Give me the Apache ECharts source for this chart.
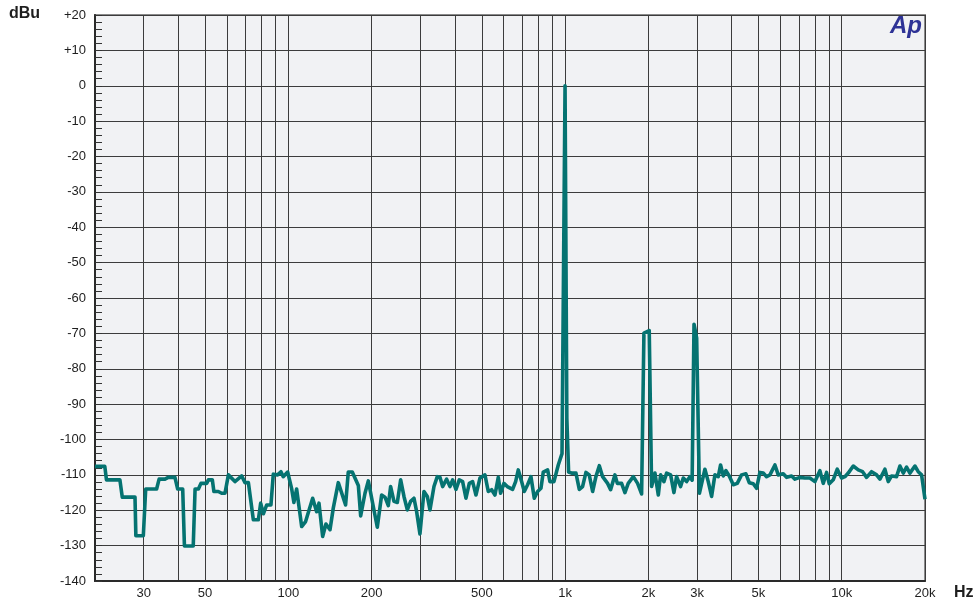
<!DOCTYPE html>
<html>
<head>
<meta charset="utf-8">
<title>FFT spectrum, dBu vs Hz</title>
<script src="https://cdn.jsdelivr.net/npm/echarts@6/dist/echarts.min.js"></script>
<style>
  html, body { margin: 0; padding: 0; background: #ffffff; }
  #chart { width: 978px; height: 605px; }
</style>
</head>
<body>
<div id="chart"></div>
<script>
// Spectrum trace: frequency (Hz) and level (dBu)
const freqs = [
  20, 21.7, 22.0, 24.6, 25.1, 27.9, 28.1, 29.9, 30.5, 33.4,
  34.1, 35.8, 36.8, 38.9, 39.8, 41.5, 42.1, 45.3, 46.0, 47.3,
  48.3, 50.7, 51.4, 53.1, 53.8, 55.8, 57.4, 59.0, 60.7, 64.1,
  67.8, 69.7, 71.7, 74.7, 77.9, 79.4, 81.2, 83.5, 86.5, 88.2,
  91.4, 94.0, 95.8, 99.4, 102.7, 104.7, 107.1, 111.7, 115.4, 122.4,
  126.5, 129.0, 133.0, 136.7, 141.4, 145.3, 151.5, 161.0, 164.6, 170.2,
  179.0, 182.5, 189.2, 194.5, 209.6, 217.3, 223.5, 229.7, 234.2, 240.8,
  247.6, 254.6, 261.7, 269.1, 276.6, 284.4, 290.8, 298.9, 309.1, 317.8,
  324.9, 335.9, 345.3, 353.1, 361.0, 373.2, 383.7, 392.4, 403.4, 414.7,
  426.4, 438.4, 450.7, 463.4, 476.4, 492.5, 513.4, 527.9, 542.8, 558.0,
  573.6, 584.9, 601.4, 618.3, 646.3, 662.7, 677.6, 696.6, 712.3, 732.3,
  752.9, 774.1, 796.0, 818.3, 834.3, 865.0, 881.9, 911.8, 945.2, 975,
  1000, 1015, 1030, 1056, 1095, 1126, 1157, 1190, 1223, 1258,
  1293, 1330, 1367, 1425, 1461, 1515, 1545, 1601, 1646, 1692,
  1765, 1829, 1891, 1928, 2015, 2055, 2113, 2173, 2215, 2277,
  2329, 2408, 2475, 2530, 2616, 2675, 2750, 2827, 2880, 2925,
  2990, 3060, 3203, 3293, 3386, 3481, 3579, 3649, 3732, 3815,
  3922, 4055, 4192, 4345, 4505, 4632, 4789, 4923, 5062, 5204,
  5351, 5502, 5736, 5896, 6147, 6319, 6588, 6774, 7061, 7361,
  7674, 8001, 8340, 8576, 8816, 9015, 9319, 9636, 9987, 10269,
  10557, 11007, 11476, 11896, 12300, 12821, 13366, 13743, 14325, 14730,
  15142, 15787, 16232, 16688, 17155, 17638, 18390, 18906, 19439, 19700,
  20000
];
const levels = [
  -107.6, -107.6, -111.4, -111.4, -116.3, -116.3, -127.2, -127.2, -114.0, -114.0,
  -111.2, -111.2, -110.7, -110.7, -114.0, -114.0, -130.1, -130.1, -114.0, -114.0,
  -112.4, -112.4, -111.4, -111.4, -114.7, -114.7, -115.2, -115.2, -110.0, -111.9,
  -110.3, -112.2, -112.2, -122.7, -122.7, -118.0, -121.0, -118.5, -118.5, -109.8,
  -110.0, -109.1, -110.5, -109.2, -113.8, -117.8, -114.0, -124.6, -123.2, -116.6,
  -120.4, -118.0, -127.4, -123.9, -125.5, -119.4, -112.2, -118.5, -109.2, -109.2,
  -113.0, -121.6, -115.2, -111.7, -124.8, -115.7, -116.3, -118.7, -113.3, -117.5,
  -117.8, -111.4, -116.1, -119.9, -117.5, -116.6, -120.4, -126.7, -114.7, -116.1,
  -119.9, -113.3, -110.5, -110.7, -113.3, -111.2, -113.3, -111.4, -114.1, -111.4,
  -111.9, -116.6, -112.4, -111.9, -115.7, -110.9, -110.0, -114.7, -114.2, -115.7,
  -110.7, -115.2, -112.4, -113.3, -114.1, -111.9, -108.6, -111.9, -114.7, -112.8,
  -110.5, -116.6, -114.7, -113.8, -109.2, -108.6, -111.9, -111.9, -107.2, -104.0,
  0.0, -94.0, -109.2, -109.5, -109.5, -114.1, -113.3, -109.3, -110.0, -114.7,
  -110.5, -107.4, -110.5, -112.4, -114.2, -110.0, -112.4, -112.4, -115.0, -112.4,
  -110.5, -112.4, -115.4, -69.9, -69.2, -113.3, -109.5, -115.7, -110.0, -111.9,
  -109.5, -110.0, -115.0, -110.5, -113.3, -110.9, -111.9, -110.5, -111.5, -67.4,
  -71.3, -115.2, -108.4, -111.9, -116.1, -110.0, -110.5, -107.2, -110.3, -108.8,
  -110.3, -112.8, -112.4, -110.0, -109.7, -112.2, -112.5, -113.8, -109.3, -109.5,
  -110.5, -110.0, -107.2, -110.0, -109.7, -110.7, -110.3, -111.2, -110.7, -110.9,
  -110.9, -111.9, -108.8, -112.4, -109.3, -112.5, -111.4, -108.4, -110.9, -110.5,
  -109.5, -107.5, -108.6, -109.1, -110.7, -109.1, -110.0, -111.2, -108.4, -111.9,
  -110.3, -110.5, -107.5, -109.5, -107.8, -109.5, -107.5, -109.1, -110.0, -110.3,
  -116.9
];

// Axis ticks and labels
const gridFreqs = [
  30, 40, 50, 60, 70, 80, 90, 100,
  200, 300, 400, 500, 600, 700, 800, 900, 1000,
  2000, 3000, 4000, 5000, 6000, 7000, 8000, 9000, 10000, 20000
];
const freqLabels = [30, 50, 100, 200, 500, 1000, 2000, 3000, 5000, 10000, 20000];

const chart = echarts.init(document.getElementById('chart'));
const textFont = '"Liberation Sans", Arial, Helvetica, sans-serif';
const trace = freqs.map((f, i) => [f, levels[i]]);

chart.setOption({
  animation: false,
  backgroundColor: '#ffffff',
  grid: {
    left: 95, right: 53, top: 15, bottom: 24,
    show: true,
    backgroundColor: '#f1f2f4',
    borderColor: '#8a8a8a',
    borderWidth: 2
  },
  xAxis: {
    type: 'log',
    logBase: 10,
    min: 20,
    max: 20000,
    axisLine: { show: true, onZero: false, lineStyle: { color: '#2a2a2a', width: 2 } },
    axisTick: { show: false, customValues: gridFreqs },
    axisLabel: {
      customValues: freqLabels,
      margin: 6,
      color: '#1e1e1e',
      fontSize: 13,
      fontFamily: textFont,
      formatter: v => (v >= 1000 ? (v / 1000) + 'k' : String(v))
    },
    splitLine: { show: true, lineStyle: { color: '#3c3c3c', width: 1 } }
  },
  yAxis: {
    type: 'value',
    min: -140,
    max: 20,
    interval: 10,
    axisLine: { show: true, onZero: false, lineStyle: { color: '#2a2a2a', width: 2 } },
    axisTick: { show: true, inside: true, length: 7, lineStyle: { color: '#333', width: 1 } },
    minorTick: { show: true, splitNumber: 5, length: 7, lineStyle: { color: '#333', width: 1 } },
    axisLabel: {
      margin: 9,
      color: '#1e1e1e',
      fontSize: 13,
      fontFamily: textFont,
      formatter: v => (v > 0 ? '+' + v : String(v))
    },
    splitLine: { show: true, lineStyle: { color: '#3c3c3c', width: 1 } }
  },
  graphic: [
    {
      type: 'text', left: 9, top: 6,
      style: { text: 'dBu', font: 'bold 16px ' + textFont, fill: '#1e1e1e' }
    },
    {
      type: 'text', left: 954, top: 585,
      style: { text: 'Hz', font: 'bold 16px ' + textFont, fill: '#1e1e1e' }
    },
    {
      type: 'text', right: 56, top: 14,
      style: { text: 'Ap', font: 'italic bold 24px ' + textFont, fill: '#2e3396' }
    }
  ],
  series: [{
    type: 'line',
    data: trace,
    showSymbol: false,
    symbol: 'none',
    smooth: false,
    clip: true,
    lineStyle: { color: '#057371', width: 3.6, join: 'round' }
  }]
});
</script>
</body>
</html>
